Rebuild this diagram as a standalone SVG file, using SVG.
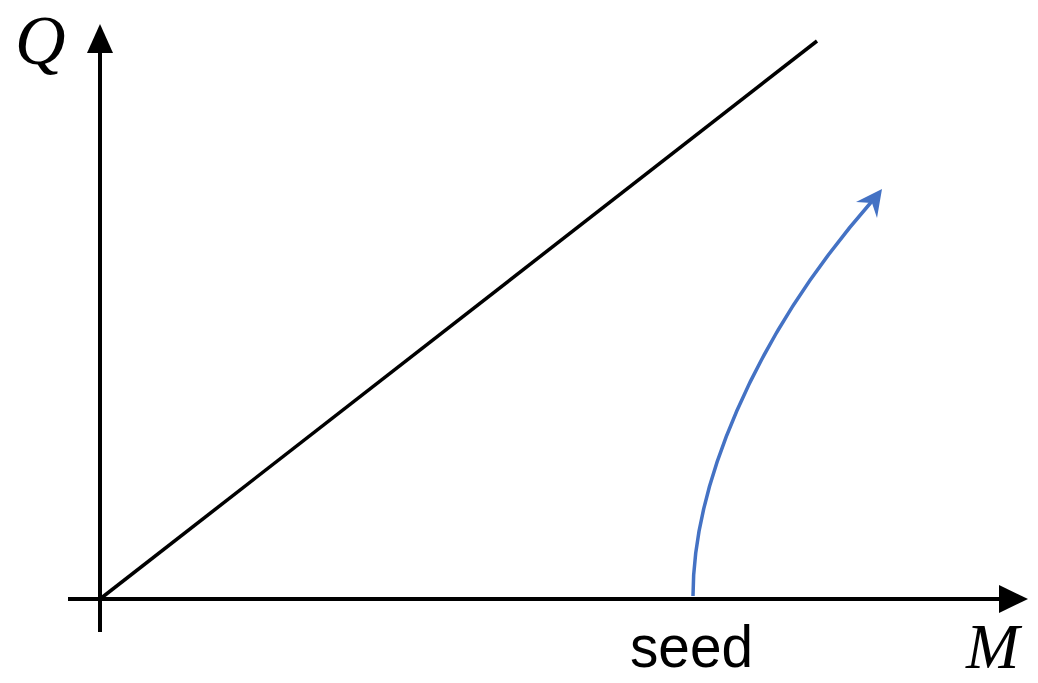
<svg xmlns="http://www.w3.org/2000/svg" width="1038" height="683" viewBox="0 0 1038 683">
<style>
.ax{stroke:#000;stroke-width:4;fill:none}
.math{font-family:"Liberation Serif",serif;font-style:italic;fill:#000}
.lbl{font-family:"Liberation Sans",Arial,sans-serif;fill:#000}
</style>
<rect width="1038" height="683" fill="#fff"/>
<g id="axes">
<line class="ax" x1="100" y1="632" x2="100" y2="50"/>
<polygon points="100,24 87,53 113,53" fill="#000"/>
<line class="ax" x1="68" y1="599" x2="1002" y2="599"/>
<polygon points="1028,599 999,585 999,613" fill="#000"/>
</g>
<g id="connectors">
<line x1="100" y1="599" x2="817" y2="41" stroke="#000" stroke-width="3.5"/>
<path d="M693,596 C693,490 750,340 873,200" stroke="#4472C4" stroke-width="3.5" fill="none"/>
<polygon points="882,189 856,202 872,203 877,218" fill="#4472C4"/>
</g>
<g id="labels">
<text class="math" x="15" y="64" font-size="70">Q</text>
<text class="math" x="966" y="668" font-size="64">M</text>
<text class="lbl" x="630" y="667" font-size="60" textLength="123" lengthAdjust="spacingAndGlyphs">seed</text>
</g>
</svg>
